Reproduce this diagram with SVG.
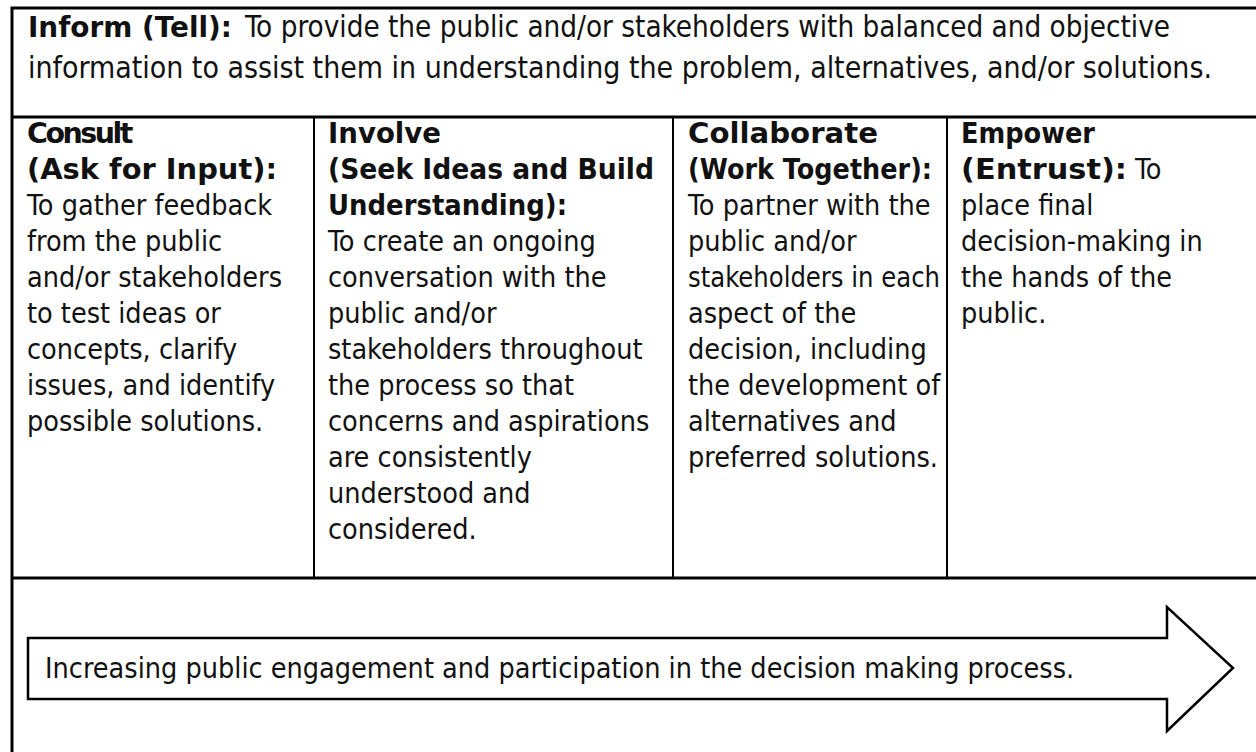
<svg xmlns="http://www.w3.org/2000/svg" width="1256" height="752" viewBox="0 0 1256 752">
<style>
.t{font-family:"DejaVu Sans Condensed","Liberation Sans",sans-serif;font-size:28.5px;fill:#111}
.big{font-size:29.5px}
.b{font-family:"DejaVu Sans","Liberation Sans",sans-serif;font-weight:bold}
.tight{letter-spacing:-2.5px}
.ln{stroke:#000;stroke-width:3;fill:none}
.ln2{stroke:#000;stroke-width:2;fill:none}
</style>
<rect width="1256" height="752" fill="#fff"/>
<g id="grid">
<path class="ln" d="M12 752V8H1256"/>
<path class="ln" d="M12 117H1256M12 578H1256"/>
<path class="ln2" d="M314 117V578M673 117V578M947 117V578"/>
</g>
<g id="inform" class="t">
<text x="28" y="37" class="b" textLength="204" lengthAdjust="spacingAndGlyphs">Inform (Tell):</text>
<text x="245" y="37" class="big" textLength="925" lengthAdjust="spacingAndGlyphs">To provide the public and/or stakeholders with balanced and objective</text>
<text x="28" y="78" class="big" textLength="1184" lengthAdjust="spacingAndGlyphs">information to assist them in understanding the problem, alternatives, and/or solutions.</text>
</g>
<g id="consult" class="t">
<text x="27" y="143" class="b tight">Consult</text>
<text x="27" y="179" class="b" textLength="250" lengthAdjust="spacingAndGlyphs">(Ask for Input):</text>
<text x="27" y="215">To gather feedback</text>
<text x="27" y="251">from the public</text>
<text x="27" y="287">and/or stakeholders</text>
<text x="27" y="323">to test ideas or</text>
<text x="27" y="359">concepts, clarify</text>
<text x="27" y="395">issues, and identify</text>
<text x="27" y="431">possible solutions.</text>
</g>
<g id="involve" class="t">
<text x="328" y="143" class="b" textLength="113" lengthAdjust="spacingAndGlyphs">Involve</text>
<text x="328" y="179" class="b" textLength="326" lengthAdjust="spacingAndGlyphs">(Seek Ideas and Build</text>
<text x="328" y="215" class="b" textLength="239" lengthAdjust="spacingAndGlyphs">Understanding):</text>
<text x="328" y="251">To create an ongoing</text>
<text x="328" y="287">conversation with the</text>
<text x="328" y="323">public and/or</text>
<text x="328" y="359">stakeholders throughout</text>
<text x="328" y="395">the process so that</text>
<text x="328" y="431">concerns and aspirations</text>
<text x="328" y="467">are consistently</text>
<text x="328" y="503">understood and</text>
<text x="328" y="539">considered.</text>
</g>
<g id="collaborate" class="t">
<text x="688" y="143" class="b" textLength="190" lengthAdjust="spacingAndGlyphs">Collaborate</text>
<text x="688" y="179" class="b" textLength="244" lengthAdjust="spacingAndGlyphs">(Work Together):</text>
<text x="688" y="215">To partner with the</text>
<text x="688" y="251">public and/or</text>
<text x="688" y="287" textLength="252" lengthAdjust="spacingAndGlyphs">stakeholders in each</text>
<text x="688" y="323">aspect of the</text>
<text x="688" y="359">decision, including</text>
<text x="688" y="395">the development of</text>
<text x="688" y="431">alternatives and</text>
<text x="688" y="467">preferred solutions.</text>
</g>
<g id="empower" class="t">
<text x="961" y="143" class="b" textLength="134" lengthAdjust="spacingAndGlyphs">Empower</text>
<text x="961" y="179" class="b" textLength="166" lengthAdjust="spacingAndGlyphs">(Entrust):</text>
<text x="1135" y="179">To</text>
<text x="961" y="215">place final</text>
<text x="961" y="251">decision-making in</text>
<text x="961" y="287">the hands of the</text>
<text x="961" y="323">public.</text>
</g>
<g id="arrow">
<polygon points="28,638 1167,638 1167,607 1233,668 1167,731 1167,699 28,699" fill="#fff" stroke="#000" stroke-width="2.5" stroke-linejoin="miter"/>
<text x="45" y="678" class="t">Increasing public engagement and participation in the decision making process.</text>
</g>
</svg>
